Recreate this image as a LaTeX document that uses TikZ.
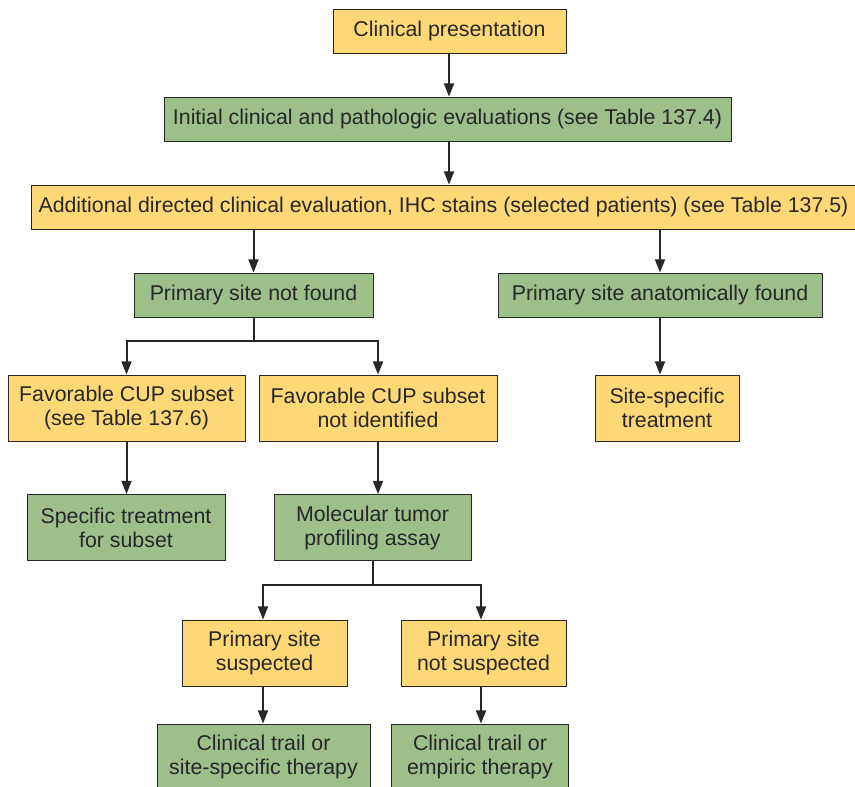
\documentclass[tikz,border=0pt]{standalone}
\usepackage{fontspec}
\setmainfont{Liberation Sans}
\usetikzlibrary{arrows.meta}
\definecolor{cupyellow}{RGB}{253,216,118}
\definecolor{cupgreen}{RGB}{157,192,138}
\definecolor{cupline}{RGB}{40,38,40}
\tikzset{every picture/.style={line width=0.75pt}}
\tikzset{
  box/.style={draw=cupline, line width=0.6pt, align=center, inner sep=0pt,
    text=cupline, font=\fontsize{16}{18}\selectfont, minimum height=33pt},
  tall/.style={minimum height=49.5pt},
  yel/.style={box, fill=cupyellow},
  grn/.style={box, fill=cupgreen},
  arr/.style={draw=cupline, line width=1.5pt, -{Triangle[length=10pt,width=7.5pt]}},
  lin/.style={draw=cupline, line width=1.5pt}
}
\begin{document}
\begin{tikzpicture}[x=0.75pt,y=0.75pt,yscale=-1,xscale=1]
\useasboundingbox (0,0) rectangle (855,787);

% boxes
\node (pres) at (449.5,31) [yel, minimum width=174.75pt] {Clinical presentation};
\node (init) at (447.5,119) [grn, minimum width=425.25pt] {Initial clinical and pathologic evaluations (see Table 137.4)};
\node (addl) at (443.5,207) [yel, minimum width=618.75pt] {Additional directed clinical evaluation, IHC stains (selected patients) (see Table 137.5)};
\node (notfound) at (253.5,295) [grn, minimum width=179.25pt] {Primary site not found};
\node (found) at (660,295) [grn, minimum width=243pt] {Primary site anatomically found};
\node (fav) at (126.5,408) [yel, tall, minimum width=177.75pt] {Favorable CUP subset\\(see Table 137.6)};
\node (nofav) at (378,408) [yel, tall, minimum width=178.5pt] {Favorable CUP subset\\not identified};
\node (sitetx) at (667,408) [yel, tall, minimum width=108pt] {Site-specific\\treatment};
\node (subtx) at (126,527.5) [grn, tall, minimum width=148.5pt] {Specific treatment\\for subset};
\node (assay) at (372.5,527.5) [grn, tall, minimum width=147.75pt] {Molecular tumor\\profiling assay};
\node (susp) at (264.5,653) [yel, tall, minimum width=123.75pt] {Primary site\\suspected};
\node (nosusp) at (483.5,653) [yel, tall, minimum width=123.75pt] {Primary site\\not suspected};
\node (trailsite) at (263.5,757) [grn, tall, minimum width=159.75pt] {Clinical trail or\\site-specific therapy};
\node (trailemp) at (480,757) [grn, tall, minimum width=132.75pt] {Clinical trail or\\empiric therapy};

% connectors
\draw [arr] (pres.south -| 449,0) -- (init.north -| 449,0);
\draw [arr] (init.south -| 449,0) -- (addl.north -| 449,0);
\draw [arr] (addl.south -| notfound) -- (notfound.north);
\draw [arr] (addl.south -| found) -- (found.north);
\draw [arr] (found.south) -- (found.south |- sitetx.north);

\path (notfound.south) ++(0,24) coordinate (split1);
\draw [lin] (notfound.south) -- (split1);
\draw [arr] (split1) -| (fav.north);
\draw [arr] (split1) -| (nofav.north);
\draw [arr] (fav.south) -- (fav.south |- subtx.north);
\draw [arr] (nofav.south) -- (nofav.south |- assay.north);

\path (assay.south) ++(0,24) coordinate (split2);
\draw [lin] (assay.south) -- (split2);
\draw [arr] (split2) -| (susp.north -| 263,0);
\draw [arr] (split2) -| (nosusp.north -| 481,0);
\draw [arr] (susp.south -| 263,0) -- (trailsite.north -| 263,0);
\draw [arr] (nosusp.south -| 481,0) -- (trailemp.north -| 481,0);

\end{tikzpicture}
\end{document}
